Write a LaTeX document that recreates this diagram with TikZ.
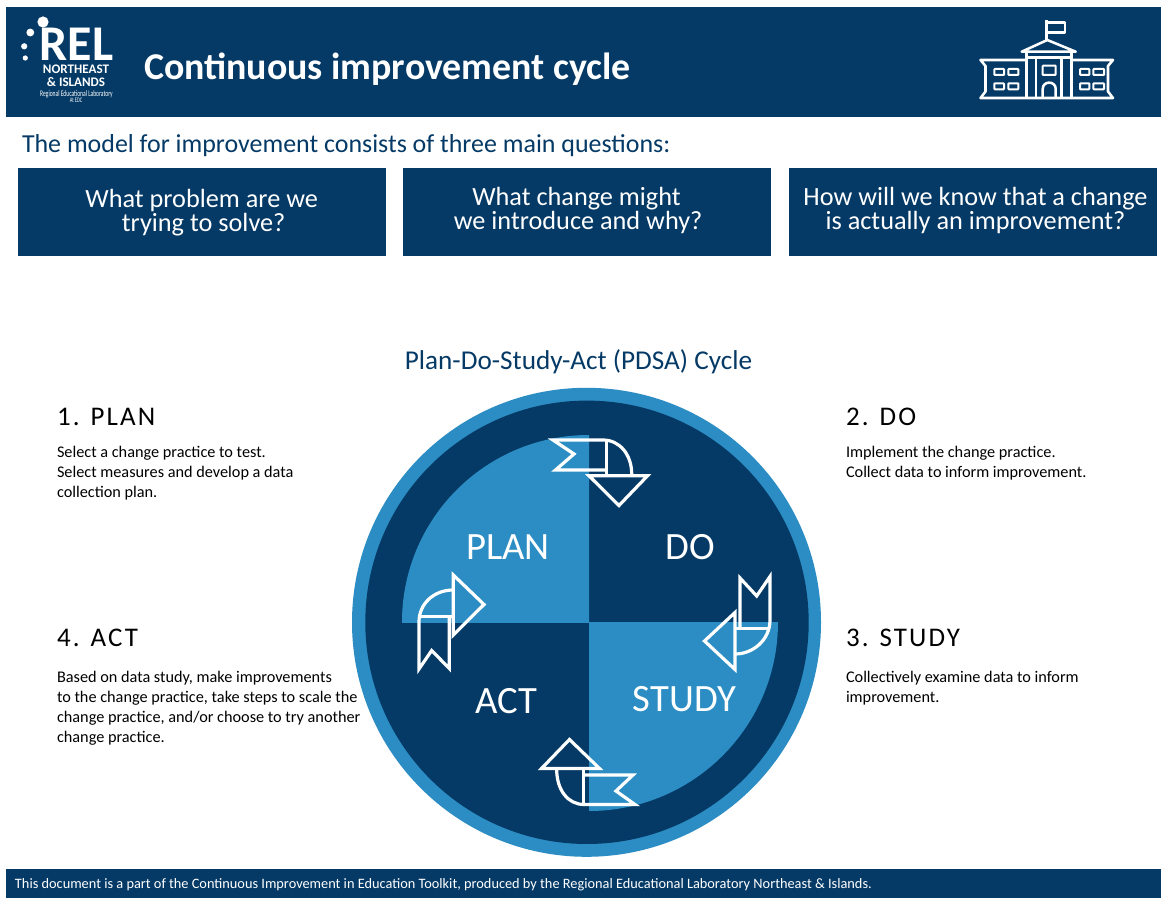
\documentclass[tikz,border=0pt]{standalone}
\usepackage{fontspec}
\setmainfont{Carlito}
\newfontfamily\spaced[LetterSpace=8]{Carlito}
\definecolor{navy}{HTML}{053A66}
\definecolor{sky}{HTML}{2B8DC3}
\newcommand{\fs}[1]{\fontsize{#1}{#1}\selectfont}
\newcommand{\fsl}[2]{\fontsize{#1}{#2}\selectfont}
\tikzset{
  lbl/.style={inner sep=0pt,outer sep=0pt,anchor=base west},
  ctr/.style={inner sep=0pt,outer sep=0pt,align=center,anchor=center},
  qbox/.style={ctr,white,font=\fsl{19.7}{18}},
  quad/.style={inner sep=0pt,outer sep=0pt,anchor=center,white,font=\fs{29}},
  head/.style={lbl,black,font=\spaced\fs{20.2}},
  body/.style={inner sep=0pt,outer sep=0pt,anchor=north west,align=left,black,font=\fsl{12.2}{15}},
  arr/.style={draw=white,line width=2.4pt,line join=miter,miter limit=6},
  ico/.style={draw=white,line width=1.9pt,line join=round},
  win/.style={draw=white,line width=1.5pt,rounded corners=0.5pt}
}
\begin{document}
\begin{tikzpicture}[x=0.75pt,y=-0.75pt]
\useasboundingbox (0,0) rectangle (1161,898);
\fill[white] (0,0) rectangle (1161,898);
% bands
\fill[navy] (6,7) rectangle (1161,117);
\fill[navy] (6,869) rectangle (1161,898);
% logo
\fill[white] (43,22) circle[radius=5.6];
\fill[white] (30.3,32.5) circle[radius=3.9];
\fill[white] (24.2,46.3) circle[radius=3.1];
\fill[white] (25.3,58) circle[radius=2.6];
\node[lbl,white,font=\bfseries\fs{37.5},text depth=0pt] (rel) at (39.5,60.5) {REL};
\node[ctr,white,font=\bfseries\fs{9.8},text height=6.5pt,text depth=0pt] (ne) at (76,69.5) {NORTHEAST};
\node[ctr,white,font=\bfseries\fs{9.8},text height=6.5pt,text depth=0pt] (isl) at (76,82.5) {\& ISLANDS};
\node[ctr,white,font=\fs{6.4},text depth=0pt] (rg) at (76.5,93.3) {\scalebox{.65}[1]{Regional Educational Laboratory}};
\node[ctr,white,font=\fs{5.2},text depth=0pt] (edc) at (76,100.5) {\scalebox{.65}[1]{At EDC}};
% title
\node[lbl,white,font=\bfseries\fs{28.4}] (title) at (144,80) {Continuous improvement cycle};
% building icon
\draw[ico] (1046.7,40) -- (1046.7,20);
\draw[ico] (1046.7,22.5) -- (1065,22.5) -- (1065,32.7) -- (1046.7,32.7);
\draw[ico] (1021.7,51.7) -- (1047.3,40) -- (1075.7,51.7) -- cycle;
\draw[ico] (1026.7,51.7) -- (1026.7,57.7) -- (1071.7,57.7) -- (1071.7,51.7);
\draw[ico] (1026.7,57.7) -- (1026.7,97.7);
\draw[ico] (1036,57.7) -- (1036,97.7);
\draw[ico] (1061.7,57.7) -- (1061.7,97.7);
\draw[ico] (1071.7,57.7) -- (1071.7,97.7);
\draw[ico] (1026.7,60) -- (980.5,60) -- (985.5,66) -- (985.5,91.5) -- (980.5,98) -- (1113,98) -- (1108,91.5) -- (1108,66) -- (1113,60) -- (1071.7,60);
\draw[win] (1042.7,65.7) rectangle (1055.7,75);
\draw[ico] (1042.7,97.7) -- (1042.7,89) .. controls (1042.7,80.5) and (1055.7,80.5) .. (1055.7,89) -- (1055.7,97.7);
\draw[win] (994.3,69) rectangle (1004,75);
\draw[win] (1008.3,69) rectangle (1018.3,75);
\draw[win] (994.3,83.3) rectangle (1004,89.3);
\draw[win] (1008.3,83.3) rectangle (1018.3,89.3);
\draw[win] (1080,69) rectangle (1089.3,75);
\draw[win] (1093.3,69) rectangle (1104,75);
\draw[win] (1080,83.3) rectangle (1089.3,89.3);
\draw[win] (1093.3,83.3) rectangle (1104,89.3);
% intro
\node[lbl,navy,font=\fs{19.45}] (intro) at (22,153) {The model for improvement consists of three main questions:};
\fill[navy] (18,168) rectangle (386,256);
\fill[navy] (403,168) rectangle (771,256);
\fill[navy] (789,168) rectangle (1157,256);
\node[qbox] (q1) at (203,213) {What problem are we\hspace*{2pt}\\\hspace*{1pt}trying to solve?};
\node[qbox] (q2) at (577.5,211) {What change might\hspace*{1.5pt}\\\hspace*{1pt}we introduce and why?};
\node[qbox] (q3) at (975.5,211) {How will we know that a change\\is actually an improvement?};
\node[ctr,navy,font=\fs{20.4}] (pdsa) at (578.5,362) {Plan-Do-Study-Act (PDSA) Cycle};
% circle
\fill[sky] (586.5,622.3) circle[radius=234.5];
\fill[navy] (587,622.3) circle[radius=221.7];
\begin{scope}
\clip (380,420) rectangle (589,622);
\fill[sky] (589,622) circle[radius=187];
\end{scope}
\begin{scope}
\clip (589,622) rectangle (800,830);
\fill[sky] (589,622) circle[radius=189];
\end{scope}
\node[quad] (plan) at (508,547) {PLAN};
\node[quad] (do) at (690.5,547) {DO};
\node[quad] (act) at (506,701) {ACT};
\node[quad] (study) at (684.5,699) {STUDY};
% arrows: top
\draw[arr] (606.5,470) -- (555.5,470) -- (574,454) -- (553,440) -- (603,440) .. controls (620,440) and (631.7,455) .. (631.7,474);
\draw[arr] (606.5,440) -- (606.5,474);
\draw[arr] (589,475.8) -- (647.5,475.8) -- (619,505.5) -- cycle;
% right
\draw[arr] (735,628.5) -- (770,628.5);
\draw[arr] (740,628.5) -- (740,578) -- (756.7,596) -- (770,576.5) -- (770,620) .. controls (770,640) and (753,654) .. (735,654);
\draw[arr] (735,612.5) -- (704.5,641) -- (735,669.5) -- cycle;
% bottom
\draw[arr] (583.3,769.5) -- (583.3,804);
\draw[arr] (583.3,775) -- (633,775) -- (616,791) -- (635,804.5) -- (584,804.5) .. controls (568,804.5) and (556.7,790) .. (556.7,769.5);
\draw[arr] (569.5,739.5) -- (541.5,768.5) -- (599.5,768.5) -- cycle;
% left
\draw[arr] (453.3,616.7) -- (419,616.7);
\draw[arr] (449.3,616.7) -- (449.3,668.5) -- (431.7,650.5) -- (419,669) -- (419,622) .. controls (419,603.5) and (434,590) .. (453.3,590);
\draw[arr] (453.3,575) -- (484,604.5) -- (453.3,635) -- cycle;
% side text
\node[head] (h1) at (57,426) {1. PLAN};
\node[body] (b1) at (57,446.5) {Select a change practice to test.\\Select measures and develop a data\\collection plan.};
\node[head] (h2) at (846,426) {2. DO};
\node[body] (b2) at (846,446.5) {Implement the change practice.\\Collect data to inform improvement.};
\node[head] (h3) at (846,646.5) {3. STUDY};
\node[body] (b3) at (846,671) {Collectively examine data to inform\\improvement.};
\node[head] (h4) at (57,646.5) {4. ACT};
\node[body] (b4) at (57,671) {Based on data study, make improvements\\to the change practice, take steps to scale the\\change practice, and/or choose to try another\\change practice.};
% footer
\node[lbl,white,font=\fs{10.75}] (foot) at (15,888) {This document is a part of the Continuous Improvement in Education Toolkit, produced by the Regional Educational Laboratory Northeast \& Islands.};
\end{tikzpicture}
\end{document}
